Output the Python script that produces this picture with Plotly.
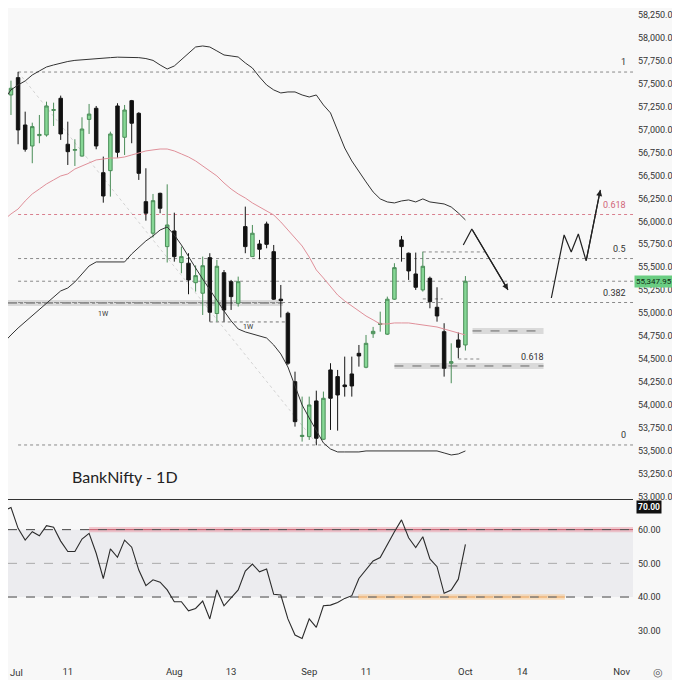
import plotly.graph_objects as go
from plotly.subplots import make_subplots

# trading sessions: -1 = 30 Jun, 0 = 1 Jul ... 64 = 1 Oct
bars = list(range(-1, 65))
o = [57534, 57378, 57567, 57051, 56822, 56935, 56942, 57210, 57342, 56841,
     56775, 56712, 57112, 57233, 56531, 56553, 57258, 56917, 57316, 57178,
     56215, 55871, 56306, 55725, 55896, 55551, 55544, 55332, 55217, 55605,
     54996, 55441, 55343, 55108, 55943, 55616, 55754, 55972, 55670, 55152,
     54999, 54253, 53655, 53654, 54043, 53625, 54381, 54308, 54217, 54337,
     54562, 54410, 54776, 54876, 54771, 55152, 55798, 55653, 55427, 55253,
     55380, 55064, 54798, 54454, 54708, 54653]
h = [57615, 57534, 57630, 57196, 57076, 57160, 57305, 57294, 57371, 57087,
     56895, 57135, 57280, 57258, 56706, 56978, 57288, 57269, 57324, 57190,
     56579, 56299, 56313, 56404, 56095, 55725, 55653, 55520, 55616, 55653,
     55580, 55470, 55362, 55398, 56161, 55961, 55798, 55997, 55743, 55307,
     55016, 54362, 54090, 54090, 54155, 54145, 54454, 54381, 54526, 54526,
     54653, 54762, 54850, 55016, 55180, 55544, 55841, 55660, 55660, 55670,
     55398, 55282, 54890, 54671, 54789, 55404]
l = [57291, 57160, 56841, 56760, 56634, 56852, 56924, 57040, 56888, 56615,
     56604, 56706, 56953, 56786, 56204, 56270, 56695, 56724, 56852, 56452,
     56008, 55825, 56089, 55552, 55561, 55435, 55206, 55235, 54980, 54907,
     54907, 54907, 55035, 55071, 55653, 55616, 55587, 55707, 55144, 54953,
     54435, 53763, 53600, 53618, 53560, 53618, 53727, 53719, 54090, 54090,
     54417, 54399, 54730, 54798, 54762, 55144, 55561, 55362, 55253, 55235,
     55053, 54907, 54308, 54236, 54508, 54592]
c = [57316, 57451, 56997, 56786, 57033, 56948, 57258, 57218, 56953, 56760,
     56783, 57007, 57170, 56822, 56277, 56953, 56753, 57214, 57070, 56524,
     56089, 56226, 56143, 55961, 55616, 55616, 55362, 55409, 55517, 55010,
     55511, 55035, 55180, 55343, 55725, 55871, 55696, 55750, 55152, 55137,
     54454, 53817, 53668, 53999, 53636, 54072, 54072, 54108, 54199, 54206,
     54533, 54671, 54802, 54888, 55152, 55496, 55725, 55460, 55282, 55511,
     55125, 54969, 54399, 54471, 54628, 55347.95]

# bollinger bands (20) and RSI, sessions -2 .. 64
band_bars = list(range(-2, 65))
bb_upper = [57160, 57324, 57433, 57487, 57531, 57596, 57640, 57683, 57705, 57727,
            57743, 57755, 57762, 57770, 57775, 57780, 57785, 57790, 57790, 57790,
            57785, 57775, 57755, 57705, 57661, 57694, 57760, 57836, 57901, 57912,
            57901, 57858, 57814, 57803, 57792, 57727, 57672, 57574, 57487, 57433,
            57400, 57411, 57411, 57378, 57356, 57378, 57269, 57182, 56997, 56800,
            56659, 56539, 56430, 56321, 56245, 56212, 56201, 56223, 56234, 56212,
            56245, 56212, 56201, 56190, 56157, 56092, 56016]
bb_mid = [55928, 56016, 56081, 56135, 56223, 56299, 56353, 56408, 56452, 56495,
          56517, 56571, 56604, 56637, 56670, 56680, 56691, 56691, 56702, 56724,
          56746, 56768, 56779, 56789, 56789, 56768, 56735, 56702, 56659, 56604,
          56550, 56495, 56419, 56353, 56299, 56255, 56201, 56157, 56114, 56070,
          55994, 55907, 55830, 55732, 55612, 55471, 55383, 55285, 55198, 55133,
          55078, 55024, 54969, 54926, 54882, 54882, 54893, 54893, 54893, 54882,
          54871, 54860, 54849, 54827, 54806, 54784, 54762]
bb_lower = [54599, 54686, 54762, 54838, 54904, 54969, 55035, 55111, 55176, 55242,
            55274, 55340, 55427, 55514, 55558, 55558, 55558, 55558, 55558, 55645,
            55721, 55787, 55841, 55906, 55939, 55852, 55743, 55612, 55492, 55372,
            55252, 55143, 55024, 54915, 54827, 54795, 54773, 54751, 54729, 54653,
            54555, 54413, 54206, 53999, 53857, 53727, 53585, 53519, 53487, 53487,
            53487, 53487, 53498, 53498, 53498, 53498, 53498, 53498, 53498, 53498,
            53498, 53498, 53498, 53476, 53454, 53465, 53498]
rsi = [67.5, 65.5, 66.6, 60.4, 56.9, 59.4, 58.2, 61.2, 60.7, 56.6,
       53.5, 53.5, 57.2, 58.9, 53.0, 45.5, 54.3, 51.8, 56.9, 54.8,
       48.0, 43.4, 45.1, 44.4, 42.1, 38.6, 38.6, 35.9, 36.6, 38.8,
       33.5, 42.1, 37.4, 39.8, 42.1, 47.7, 49.8, 47.5, 48.3, 40.8,
       40.6, 33.5, 28.7, 27.7, 33.5, 31.0, 37.4, 37.6, 38.4, 39.6,
       40.4, 45.5, 48.0, 50.7, 51.7, 55.6, 59.4, 62.9, 57.6, 54.7,
       57.9, 51.3, 49.0, 41.1, 42.1, 45.3, 55.6]

tick_pos = [0, 8, 23, 31, 42, 50, 64, 72, 86]
tick_text = ["Jul", "11", "Aug", "13", "Sep", "11", "Oct", "14", "Nov"]

fib_labels = ["1", "0.618", "0.5", "0.382", "0"]
fib_prices = [57628, 56075, 55595, 55116, 53563]
last_price = 55347.95

# hand drawn projection paths (session, price)
down_x = [63.7, 64.9, 70.0]
down_y = [55743, 55917, 55253]
zig_x = [76.1, 77.9, 78.9, 79.9, 81.0, 83.0]
zig_y = [55165, 55852, 55667, 55863, 55569, 56343]

X0, X1 = -0.42, 87.6
FONT = "Roboto"

fig = make_subplots(rows=2, cols=1, shared_xaxes=True, vertical_spacing=0.003)

# RSI backdrop
fig.add_shape(type="rect", x0=X0, x1=X1, y0=40, y1=60, xref="x2", yref="y2",
              fillcolor="#ececef", line_width=0, layer="below")
fig.add_shape(type="rect", x0=11, x1=X1, y0=59.2, y1=60.8, xref="x2", yref="y2",
              fillcolor="rgba(235,140,155,0.45)", line_width=0, layer="below")
fig.add_shape(type="rect", x0=48.9, x1=78, y0=39.2, y1=40.8, xref="x2", yref="y2",
              fillcolor="rgba(250,190,120,0.45)", line_width=0, layer="below")
for lvl, col in [(60, "#444"), (50, "#aaa"), (40, "#444")]:
    fig.add_shape(type="line", x0=X0, x1=X1, y0=lvl, y1=lvl, xref="x2", yref="y2",
                  line=dict(color=col, width=1, dash="dash"), layer="below")
fig.add_shape(type="line", x0=11, x1=X1, y0=60, y1=60, xref="x2", yref="y2",
              line=dict(color="#c25a6a", width=1, dash="dash"), layer="below")
fig.add_shape(type="line", x0=48.9, x1=78, y0=40, y1=40, xref="x2", yref="y2",
              line=dict(color="#e9a25a", width=1, dash="dash"), layer="below")

# weekly zones
fig.add_shape(type="rect", x0=X0, x1=38.3, y0=55078, y1=55144, xref="x", yref="y",
              fillcolor="rgba(150,150,150,0.3)", line_width=0, layer="below")
fig.add_shape(type="line", x0=X0, x1=38.3, y0=55111, y1=55111, xref="x", yref="y",
              line=dict(color="#555", width=1, dash="dashdot"), layer="below")
fig.add_shape(type="line", x0=28, x1=38.6, y0=54904, y1=54904, xref="x", yref="y",
              line=dict(color="#777", width=1, dash="dot"), layer="below")
for x0, yc in [(65, 54806), (54, 54424)]:
    fig.add_shape(type="rect", x0=x0, x1=75, y0=yc - 33, y1=yc + 33, xref="x", yref="y",
                  fillcolor="rgba(150,150,150,0.3)", line_width=0, layer="below")
    fig.add_shape(type="line", x0=x0, x1=75, y0=yc, y1=yc, xref="x", yref="y",
                  line=dict(color="#666", width=1, dash="dash"), layer="below")
for x0, x1, yv in [(63, 66, 54500), (58, 66.8, 55667), (58, 60.8, 55155)]:
    fig.add_shape(type="line", x0=x0, x1=x1, y0=yv, y1=yv, xref="x", yref="y",
                  line=dict(color="#888", width=1, dash="dot"), layer="below")

# fib levels
for lab, p in zip(fib_labels, fib_prices):
    col = "#d9808f" if lab == "0.618" else "#8a8a8a"
    fig.add_shape(type="line", x0=1, x1=X1, y0=p, y1=p, xref="x", yref="y",
                  line=dict(color=col, width=1, dash="dot"), layer="below")
    fig.add_annotation(x=0.992, xref="x domain", y=p, yref="y", text=lab,
                       showarrow=False, xanchor="right", yshift=10,
                       font=dict(size=9, color="#d06578" if lab == "0.618" else "#333",
                                 family=FONT))
fig.add_shape(type="line", x0=1, x1=X1, y0=last_price, y1=last_price, xref="x", yref="y",
              line=dict(color="#8a8a8a", width=1, dash="dot"), layer="below")
fig.add_shape(type="line", x0=1, x1=43.2, y0=fib_prices[0], y1=fib_prices[-1],
              xref="x", yref="y", line=dict(color="rgba(0,0,0,0.15)", width=1, dash="dot"),
              layer="below")

fig.add_trace(go.Scatter(x=band_bars, y=bb_mid, mode="lines",
                         line=dict(color="#e0909a", width=1), hoverinfo="skip"), 1, 1)
fig.add_trace(go.Scatter(x=band_bars, y=bb_upper, mode="lines",
                         line=dict(color="#333", width=1), hoverinfo="skip"), 1, 1)
fig.add_trace(go.Scatter(x=band_bars, y=bb_lower, mode="lines",
                         line=dict(color="#333", width=1), hoverinfo="skip"), 1, 1)

fig.add_trace(go.Candlestick(
    x=bars, open=o, high=h, low=l, close=c,
    increasing=dict(line=dict(color="#4a8d58", width=1), fillcolor="#86d795"),
    decreasing=dict(line=dict(color="#151515", width=1), fillcolor="#111111"),
    whiskerwidth=0), 1, 1)

for px_, py_ in [(down_x, down_y), (zig_x, zig_y)]:
    fig.add_trace(go.Scatter(x=px_, y=py_, mode="lines",
                             line=dict(color="#222", width=1.2), hoverinfo="skip"), 1, 1)
    fig.add_annotation(x=px_[-1], y=py_[-1], ax=px_[-2], ay=py_[-2], xref="x", yref="y",
                       axref="x", ayref="y", showarrow=True, arrowhead=2, arrowsize=1,
                       arrowwidth=1.2, arrowcolor="#222", text="")

fig.add_trace(go.Scatter(x=band_bars, y=rsi, mode="lines",
                         line=dict(color="#2b2b2b", width=1.1), hoverinfo="skip"), 2, 1)

# texts
fig.add_annotation(x=0.099, xref="paper", y=53214, yref="y", text="BankNifty - 1D",
                   showarrow=False, xanchor="left", font=dict(size=16, color="#222", family="Lato"))
fig.add_annotation(x=13, y=54995, xref="x", yref="y", text="1W", showarrow=False,
                   font=dict(size=7, color="#333", family=FONT))
fig.add_annotation(x=33.5, y=54845, xref="x", yref="y", text="1W", showarrow=False,
                   font=dict(size=7, color="#333", family=FONT))
fig.add_annotation(x=73.5, y=54525, xref="x", yref="y", text="0.618", showarrow=False,
                   font=dict(size=9, color="#333", family=FONT))
fig.add_annotation(x=1.0, xref="paper", y=last_price, yref="y", text="55,347.95",
                   showarrow=False, xanchor="left", xshift=1, bgcolor="#6acd82",
                   borderpad=1, font=dict(size=8, color="#0d2a14", family=FONT))
fig.add_annotation(x=1.0, xref="paper", y=66.7, yref="y2", text="<b>70.00</b>",
                   showarrow=False, xanchor="left", xshift=3, yanchor="middle",
                   bgcolor="#111", borderpad=1, font=dict(size=8.5, color="#fff", family=FONT))
# first month label sits at the very left edge
fig.add_annotation(x=0, xref="paper", y=-0.022, yref="paper", text=tick_text[0],
                   showarrow=False, xanchor="left", yanchor="middle",
                   font=dict(size=9.5, color="#333", family=FONT))
fig.add_annotation(x=1.0, xref="paper", y=-0.022, yref="paper", text="◎",
                   showarrow=False, xanchor="left", xshift=18, yanchor="middle",
                   font=dict(size=11, color="#555"))

fig.update_layout(
    width=672, height=672, showlegend=False,
    margin=dict(l=0, r=47, t=0, b=22),
    paper_bgcolor="#f8f8f8", plot_bgcolor="#f8f8f8",
    font=dict(family=FONT, size=9, color="#333"),
    xaxis=dict(range=[X0, X1], rangeslider=dict(visible=False), showgrid=False,
               zeroline=False, showticklabels=False, showline=True,
               linecolor="#333", linewidth=1.3),
    xaxis2=dict(range=[X0, X1], showgrid=False, zeroline=False, tickmode="array",
                tickvals=tick_pos[1:], ticktext=tick_text[1:], ticks="", showline=False,
                ticklabelstandoff=6, tickfont=dict(size=9.5, color="#333")),
    yaxis=dict(domain=[0.2446, 1], range=[52974, 58326], side="right", showgrid=False,
               zeroline=False, tickmode="linear", tick0=53000, dtick=250,
               tickformat=",.2f", ticks="", ticklabelstandoff=4),
    yaxis2=dict(domain=[0, 0.2415], range=[21.9, 68.5], side="right", showgrid=False,
                zeroline=False, tickvals=[30, 40, 50, 60], tickformat=".2f",
                ticks="", ticklabelstandoff=4),
)

fig.write_html("out.html")
